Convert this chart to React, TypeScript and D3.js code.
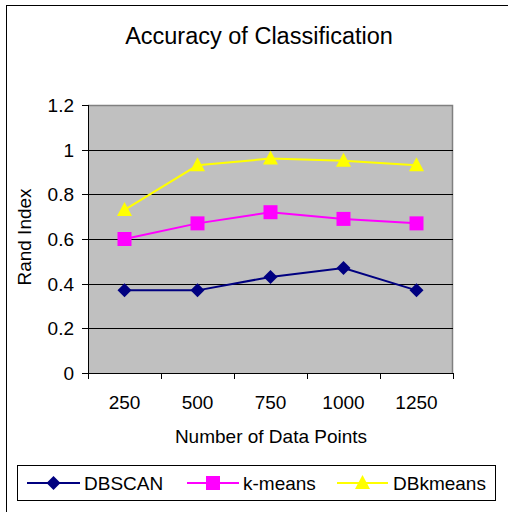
import React from 'react';
import * as d3 from 'd3';

const categories = ['250', '500', '750', '1000', '1250'];
const dbscan = [0.37, 0.37, 0.43, 0.47, 0.37];
const kmeans = [0.6, 0.67, 0.72, 0.69, 0.67];
const dbkmeans = [0.73, 0.93, 0.96, 0.95, 0.93];
const yTicks = [0, 0.2, 0.4, 0.6, 0.8, 1, 1.2];

const series = [
  { name: 'DBSCAN', values: dbscan, color: '#000080', shape: 'diamond' },
  { name: 'k-means', values: kmeans, color: '#FF00FF', shape: 'square' },
  { name: 'DBkmeans', values: dbkmeans, color: '#FFFF00', shape: 'triangle' },
];

const font = 'Arial, "Liberation Sans", sans-serif';

function Marker({ x, y, shape, color }: { x: number; y: number; shape: string; color: string }) {
  if (shape === 'diamond') {
    return <path d={`M${x},${y - 7}L${x + 7},${y}L${x},${y + 7}L${x - 7},${y}Z`} fill={color} />;
  }
  if (shape === 'square') {
    return <rect x={x - 7} y={y - 7} width={14} height={14} fill={color} />;
  }
  return <path d={`M${x},${y - 8}L${x + 7.5},${y + 6}L${x - 7.5},${y + 6}Z`} fill={color} />;
}

export default function App() {
  const left = 88, right = 453, top = 105, bottom = 373;
  const x = d3.scaleBand().domain(categories).range([left, right]);
  const y = d3.scaleLinear().domain([0, 1.2]).range([bottom, top]);
  const cx = (c: string) => (x(c) as number) + x.bandwidth() / 2;
  const line = d3.line<number>().x((_, i) => cx(categories[i])).y((v) => y(v));

  const legendItems = [
    { x0: 27, x1: 80, tx: 84 },
    { x0: 187, x1: 239, tx: 243 },
    { x0: 337, x1: 388, tx: 393 },
  ];

  return (
    <svg width={508} height={512} style={{ position: 'absolute', left: 0, top: 0, background: '#fff' }}>
      <rect x={6.5} y={5.5} width={520} height={520} fill="none" stroke="#000" />
      <text x={259} y={44} textAnchor="middle" fontFamily={font} fontSize={23.5}>Accuracy of Classification</text>

      <rect x={left} y={top} width={right - left} height={bottom - top} fill="#C0C0C0" />
      <path d={`M${left},${top + 0.5}H${right - 0.5}V${bottom}`} fill="none" stroke="#808080" strokeWidth={1.5} />
      {yTicks.filter((t) => t > 0 && t < 1.2).map((t) => (
        <line key={t} x1={left} x2={right} y1={Math.round(y(t)) + 0.5} y2={Math.round(y(t)) + 0.5} stroke="#000" />
      ))}

      <line x1={left + 0.5} x2={left + 0.5} y1={top} y2={bottom} stroke="#000" />
      <line x1={left} x2={right} y1={bottom + 0.5} y2={bottom + 0.5} stroke="#000" />
      {yTicks.map((t) => (
        <g key={t}>
          <line x1={left - 6} x2={left} y1={Math.round(y(t)) + 0.5} y2={Math.round(y(t)) + 0.5} stroke="#000" />
          <text x={74} y={y(t) + 7} textAnchor="end" fontFamily={font} fontSize={19}>{t}</text>
        </g>
      ))}
      {categories.map((c, i) => (
        <g key={c}>
          <line x1={Math.round(x(c) as number) + 0.5} x2={Math.round(x(c) as number) + 0.5} y1={bottom} y2={bottom + 6} stroke="#000" />
          {i === categories.length - 1 && (
            <line x1={right + 0.5} x2={right + 0.5} y1={bottom} y2={bottom + 6} stroke="#000" />
          )}
          <text x={cx(c)} y={409} textAnchor="middle" fontFamily={font} fontSize={19}>{c}</text>
        </g>
      ))}

      <text x={271} y={443} textAnchor="middle" fontFamily={font} fontSize={19}>Number of Data Points</text>
      <text transform="translate(31,237) rotate(-90)" textAnchor="middle" fontFamily={font} fontSize={19}>Rand Index</text>

      {series.map((s) => (
        <g key={s.name}>
          <path d={line(s.values) as string} fill="none" stroke={s.color} strokeWidth={2} />
          {s.values.map((v, i) => (
            <Marker key={i} x={cx(categories[i])} y={y(v)} shape={s.shape} color={s.color} />
          ))}
        </g>
      ))}

      <rect x={17.5} y={465.5} width={478} height={35} fill="#fff" stroke="#000" />
      {series.map((s, i) => {
        const it = legendItems[i];
        return (
          <g key={s.name}>
            <line x1={it.x0} x2={it.x1} y1={483} y2={483} stroke={s.color} strokeWidth={2} />
            <Marker x={(it.x0 + it.x1) / 2} y={483} shape={s.shape} color={s.color} />
            <text x={it.tx} y={490} fontFamily={font} fontSize={19}>{s.name}</text>
          </g>
        );
      })}
    </svg>
  );
}
